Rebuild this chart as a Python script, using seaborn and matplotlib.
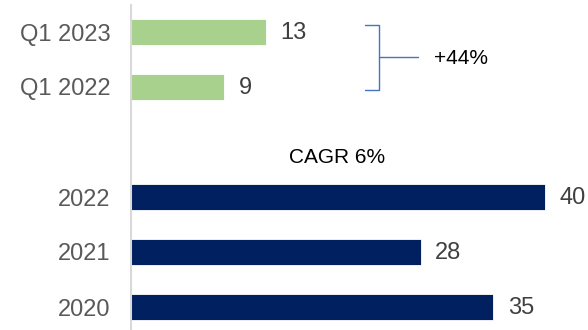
import matplotlib
matplotlib.use("Agg")
import matplotlib.pyplot as plt
import seaborn as sns
import pandas as pd
import numpy as np

# Chart data
categories = ["Q1 2023", "Q1 2022", " ", "2022", "2021", "2020"]
values = [13, 9, np.nan, 40, 28, 35]
groups = ["quarter", "quarter", "quarter", "year", "year", "year"]
palette = {"quarter": "#A9D18E", "year": "#002060"}

quarter_growth = "+44%"
cagr_label = "CAGR 6%"

sns.set_theme(style="white")
plt.rcParams["font.family"] = ["Liberation Sans", "DejaVu Sans"]

df = pd.DataFrame({"category": categories, "value": values, "group": groups})

fig = plt.figure(figsize=(5.88, 3.30), dpi=100)
ax = fig.add_axes([131 / 588, -4.5 / 330, 1 - 131 / 588, 330 / 330])

sns.barplot(data=df, y="category", x="value", hue="group", palette=palette,
            order=categories, orient="h", width=0.47, dodge=False,
            saturation=1, legend=False, ax=ax,
            edgecolor="white", linewidth=0.6)

ax.set_xlim(0, (588 - 131) / 10.35)
ax.set_ylim(5.5, -0.5)
ax.set_xlabel("")
ax.set_ylabel("")
ax.set_xticks([])
ax.tick_params(axis="y", length=0, pad=15, labelsize=17, labelcolor="#595959")

for side in ["top", "right", "bottom"]:
    ax.spines[side].set_visible(False)
ax.spines["left"].set_color("#D9D9D9")
ax.spines["left"].set_linewidth(1.5)

# value labels at the end of each bar
for i, v in enumerate(values):
    if not np.isnan(v):
        ax.text(v + 1.4, i + 0.02, f"{v:g}", va="center", ha="left",
                fontsize=17, color="#404040")

# bracket linking the two quarters
bx0, bx1, bx2 = 22.6, 24.0, 27.7
by0, by1 = -0.13, 1.05
bym = (by0 + by1) / 2
bracket_color = "#4472C4"
ax.plot([bx0, bx1, bx1, bx0], [by0, by0, by1, by1], color=bracket_color,
        lw=1.0, solid_joinstyle="round", clip_on=False)
ax.plot([bx1, bx2], [bym, bym], color=bracket_color, lw=1.0, clip_on=False)
ax.text(29.3, bym + 0.02, quarter_growth, va="center", ha="left",
        fontsize=15, color="black")

ax.text(19.9, 2.29, cagr_label, va="center", ha="center",
        fontsize=15, color="black")

fig.savefig("out.png", dpi=100)
